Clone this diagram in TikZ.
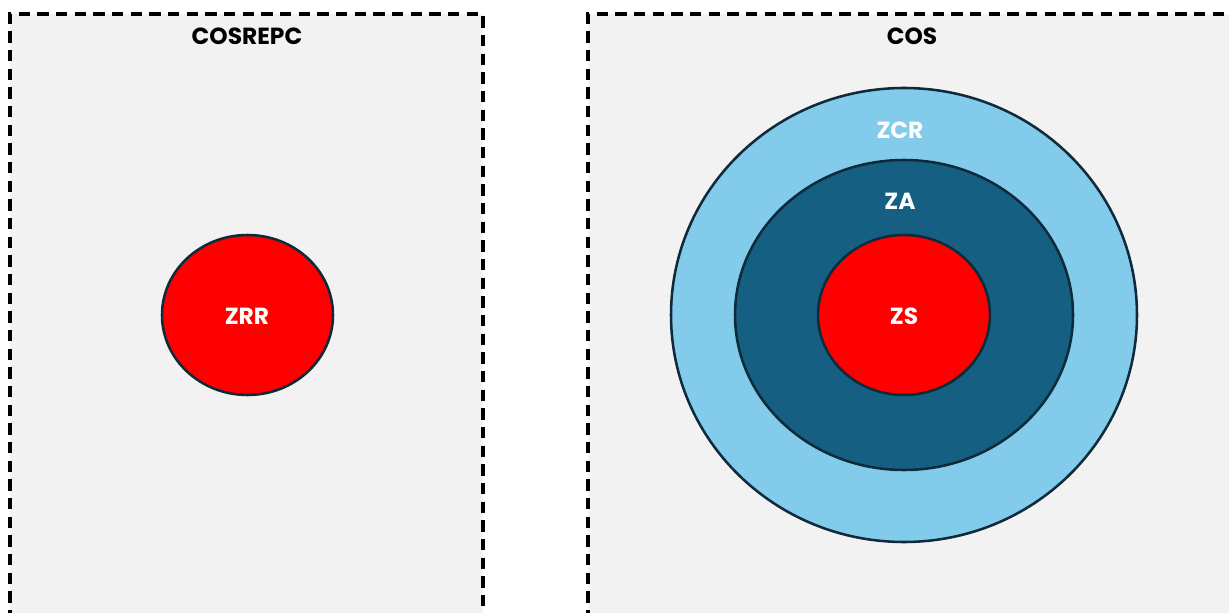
\documentclass[tikz,border=0pt]{standalone}
\usepackage{fontspec}
\setmainfont{Poppins}
\usetikzlibrary{shapes.geometric}
\definecolor{panelbg}{HTML}{F2F2F2}
\definecolor{edgec}{HTML}{0E2A3B}
\definecolor{lightblue}{HTML}{83CBEB}
\definecolor{darkblue}{HTML}{156082}
\definecolor{zred}{HTML}{FF0000}
\tikzset{
  panelfill/.style={fill=panelbg, draw=none},
  panel/.style={draw=black, line width=2.6pt, dash pattern=on 8.5pt off 5.5pt},
  zone/.style={ellipse, draw=edgec, line width=1.9pt, inner sep=0pt},
  title/.style={font=\bfseries\fontsize{17.5}{20}\selectfont, text=black},
  zlabel/.style={font=\bfseries\fontsize{17.5}{20}\selectfont, text=white},
}
\begin{document}
\begin{tikzpicture}[x=0.75pt,y=-0.75pt]
\useasboundingbox (0,0) rectangle (1229,613);
\fill[panelfill] (10,14) rectangle (483,640);
\fill[panelfill] (588,14) rectangle (1260,640);
\draw[panel] (10,640) -- (10,14) -- (483,14) -- (483,640);
\draw[panel] (588,640) -- (588,14) -- (1260,14);
\node[title] (t1) at (247,36) {COSREPC};
\node[title] (t2) at (912,36) {COS};
\node[zone, fill=zred, minimum width=128.25pt, minimum height=120pt] (zrr) at (247.5,315) {};
\node[zlabel] (lzrr) at (247,316) {ZRR};
\node[zone, fill=lightblue, minimum width=349.5pt, minimum height=340.5pt] (zcr) at (904,315) {};
\node[zone, fill=darkblue, minimum width=253.5pt, minimum height=232.5pt] (za) at (904,315) {};
\node[zone, fill=zred, minimum width=129pt, minimum height=120pt] (zs) at (904,315) {};
\node[zlabel] (lzcr) at (900,130) {ZCR};
\node[zlabel] (lza) at (900,201) {ZA};
\node[zlabel] (lzs) at (904,316) {ZS};
\end{tikzpicture}
\end{document}
